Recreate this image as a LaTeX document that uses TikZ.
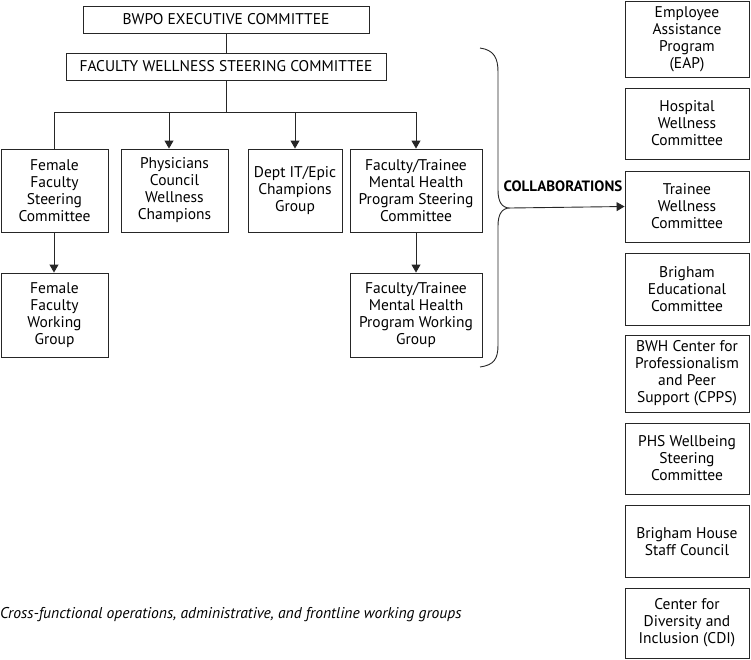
\documentclass[tikz,border=0pt]{standalone}
\usepackage{fontspec}
\setmainfont{PT Sans}
\usetikzlibrary{arrows.meta}
\tikzset{
  box/.style={draw=black!85, line width=0.9pt, align=center, inner sep=0pt, font=\fontsize{15.5}{17}\selectfont},
  conn/.style={draw=black!85, line width=0.9pt},
  arr/.style={conn, -{Triangle[length=8pt,width=9pt]}},
}
\begin{document}
\begin{tikzpicture}[x=1pt,y=-1pt]
\useasboundingbox (0,0) rectangle (751,659);
% top
\node[box, minimum width=286pt, minimum height=27pt] (exec) at (226,19.5) {BWPO EXECUTIVE COMMITTEE};
\node[box, minimum width=320pt, minimum height=27pt] (fwsc) at (226,66.5) {FACULTY WELLNESS STEERING COMMITTEE};
% row 1
\node[box, minimum width=107pt, minimum height=83pt] (ffsc) at (54.5,190.5) {Female\\Faculty\\Steering\\Committee};
\node[box, minimum width=107pt, minimum height=83pt] (pcwc) at (174.5,190.5) {Physicians\\Council\\Wellness\\Champions};
\node[box, minimum width=94pt, minimum height=83pt] (dept) at (295,190.5) {Dept IT/Epic\\Champions\\Group};
\node[box, minimum width=132pt, minimum height=83pt] (mhsc) at (416,190.5) {Faculty/Trainee\\Mental Health\\Program Steering\\Committee};
% row 2
\node[box, minimum width=107pt, minimum height=84pt] (ffwg) at (54.5,315) {Female\\Faculty\\Working\\Group};
\node[box, minimum width=132pt, minimum height=84pt] (mhwg) at (416,315) {Faculty/Trainee\\Mental Health\\Program Working\\Group};
% connectors
\coordinate (bus) at (226,112);
\draw[conn] (exec) -- (fwsc);
\draw[conn] (fwsc.south) -- (bus);
\draw[conn] (54,112) -- (416,112);
\draw[conn] (54,112) -- (ffsc.north -| 54,0);
\draw[arr] (169,112) -- (pcwc.north -| 169,0);
\draw[arr] (295,112) -- (dept.north);
\draw[arr] (416,112) -- (mhsc.north);
\draw[arr] (ffsc.south -| 54,0) -- (ffwg.north -| 54,0);
\draw[arr] (mhsc.south) -- (mhwg.north);
% right column
\begin{scope}[every node/.style={box, minimum width=124pt}]
\node[minimum height=76pt] (eap) at (687,39) {Employee\\Assistance\\Program\\(EAP)};
\node[minimum height=71pt] (hwc) at (687,123.5) {Hospital\\Wellness\\Committee};
\node[minimum height=71pt] (twc) at (687,206.5) {Trainee\\Wellness\\Committee};
\node[minimum height=72pt] (bec) at (687,289) {Brigham\\Educational\\Committee};
\node[minimum height=77pt] (cpps) at (687,373.5) {BWH Center for\\Professionalism\\and Peer\\Support (CPPS)};
\node[minimum height=71pt] (phs) at (687,458.5) {PHS Wellbeing\\Steering\\Committee};
\node[minimum height=72pt] (bhsc) at (687,541.5) {Brigham House\\Staff Council};
\node[minimum height=70pt] (cdi) at (687,623) {Center for\\Diversity and\\Inclusion (CDI)};
\end{scope}
% brace
\coordinate (cusp) at (510,208);
\draw[conn] (480,48) .. controls (494,50) and (498,58) .. (498,72) -- (498,190)
  .. controls (498,202) and (502,208) .. (cusp)
  .. controls (502,208) and (498,214) .. (498,226) -- (498,345)
  .. controls (498,359) and (494,365) .. (480,367);
\draw[arr] (cusp) -- (twc.west);
\node[font=\fontsize{15}{17}\selectfont\bfseries, anchor=south, inner sep=0pt] (collab) at (563,192) {COLLABORATIONS};
\node[anchor=west, font=\fontsize{15.6}{17}\selectfont\itshape, inner sep=0pt] (note) at (0,615) {Cross-functional operations, administrative, and frontline working groups};
\end{tikzpicture}
\end{document}
